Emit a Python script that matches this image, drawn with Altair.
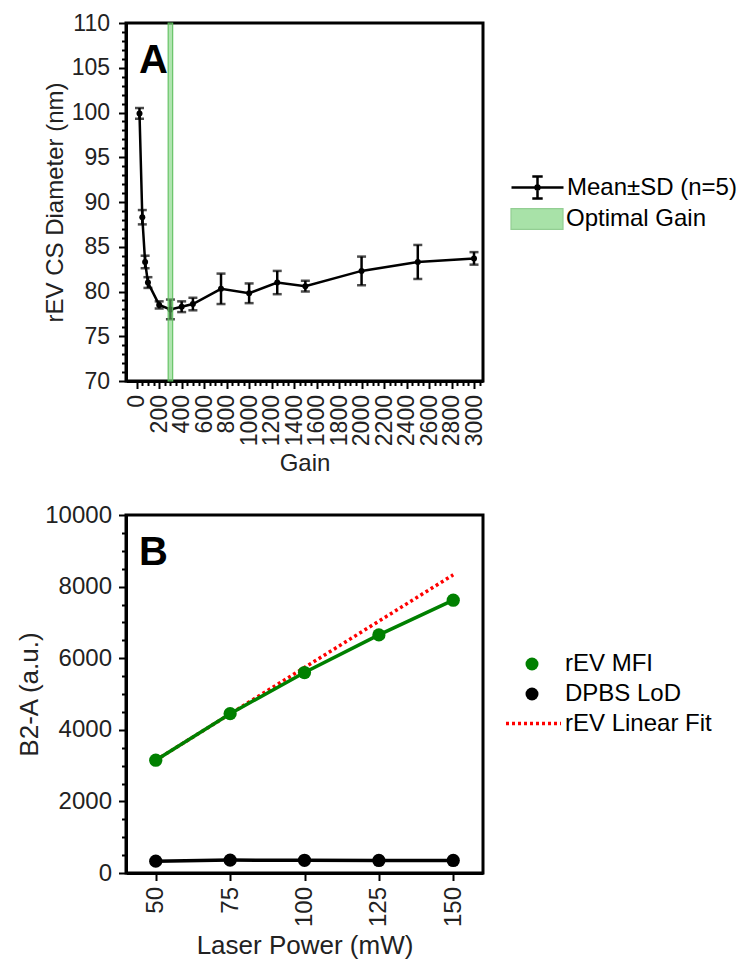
import altair as alt
import pandas as pd

# ---------------- data ----------------
gain = [25, 50, 75, 100, 200, 300, 400, 500, 750, 1000, 1250, 1500, 2000, 2500, 3000]
diam_mean = [99.9, 88.3, 83.3, 81.0, 78.5, 78.0, 78.3, 78.6, 80.3, 79.8, 81.0, 80.6, 82.3, 83.3, 83.7]
diam_sd = [0.6, 0.8, 0.7, 0.6, 0.4, 1.1, 0.6, 0.7, 1.7, 1.1, 1.3, 0.6, 1.6, 1.9, 0.7]
opt_gain_lo = [280]
opt_gain_hi = [320]

power = [50, 75, 100, 125, 150]
rev_mfi = [3150, 4450, 5600, 6650, 7620]
dpbs_lod = [330, 360, 355, 350, 350]
fit_power = [50, 150]
fit_mfi = [3150, 8330]

gain_ticks = list(range(0, 3051, 50))
diam_ticks = list(range(70, 111))
power_ticks = [50, 75, 100, 125, 150]
b2a_ticks = list(range(0, 10001, 500))

panel_labels = ["A", "B"]

FONT = "Liberation Sans"

# ---------------- frames ----------------
dfA = pd.DataFrame({"gain": gain, "mean": diam_mean, "sd": diam_sd})
dfA["lo"] = dfA["mean"] - dfA["sd"]
dfA["hi"] = dfA["mean"] + dfA["sd"]
dfA["series"] = "Mean±SD (n=5)"
dfBand = pd.DataFrame({"lo": opt_gain_lo, "hi": opt_gain_hi, "series": ["Optimal Gain"]})

dfB = pd.DataFrame({
    "power": power * 2,
    "value": rev_mfi + dpbs_lod,
    "series": ["rEV MFI"] * len(power) + ["DPBS LoD"] * len(power),
})
dfFit = pd.DataFrame({"power": fit_power, "value": fit_mfi, "series": ["rEV Linear Fit"] * 2})


def minor_dash(test):
    # major ticks solid, minor ticks drawn as a short stub next to the axis line
    return {"condition": {"test": test, "value": [8, 0]}, "value": [4.5, 12]}


def panel_label(letter):
    return alt.Chart(pd.DataFrame({"t": [letter]})).mark_text(
        font=FONT, fontSize=40, fontWeight="bold", color="black",
        align="left", baseline="alphabetic",
    ).encode(text="t:N", x=alt.value(13), y=alt.value(50))


# ---------------- panel A ----------------
xA_scale = alt.Scale(domain=[-95, 3080], nice=False, zero=False)
yA_scale = alt.Scale(domain=[70, 110], nice=False, zero=False)

xA_axis = alt.Axis(
    title="Gain", values=gain_ticks, format="d",
    labelExpr="datum.value % 200 === 0 ? datum.label : ''",
    tickDash=minor_dash("datum.value % 200 === 0"),
    labelAngle=270, labelAlign="right", labelBaseline="middle", labelOverlap=False,
    labelFontSize=23, titleFontSize=24, labelPadding=6, titlePadding=6,
)
yA_axis = alt.Axis(
    title="rEV CS Diameter (nm)", values=diam_ticks, format="d",
    labelExpr="datum.value % 5 === 0 ? datum.label : ''",
    tickDash=minor_dash("datum.value % 5 === 0"),
    labelOverlap=False,
    labelFontSize=23, titleFontSize=24, labelPadding=9, titlePadding=4,
)
xA = alt.X("gain:Q", scale=xA_scale, axis=xA_axis)

baseA = alt.Chart(dfA)

lineA = baseA.mark_line(strokeWidth=2.5).encode(
    x=xA,
    y=alt.Y("mean:Q", scale=yA_scale, axis=yA_axis),
    stroke=alt.Stroke(
        "series:N",
        scale=alt.Scale(domain=["Mean±SD (n=5)"], range=["black"]),
        legend=alt.Legend(
            title=None, orient="none", legendX=397, legendY=150,
            symbolType="M-2,0H2M0,-0.85V0.85M-0.4,-0.85H0.4M-0.4,0.85H0.4M0.15,0A0.15,0.15 0 1,1 -0.15,0A0.15,0.15 0 1,1 0.15,0",
            symbolSize=676, symbolStrokeWidth=2.5, symbolStrokeColor="black",
            labelFont=FONT, labelFontSize=24, labelOffset=15, labelColor="black",
        ),
    ),
)
ruleA = baseA.mark_rule(strokeWidth=2.5, color="black").encode(
    x=xA, y=alt.Y("lo:Q", scale=yA_scale, axis=yA_axis), y2="hi:Q"
)
capLo = baseA.mark_tick(orient="horizontal", size=9, thickness=2.5, color="black").encode(
    x=xA, y=alt.Y("lo:Q", scale=yA_scale, axis=yA_axis)
)
capHi = baseA.mark_tick(orient="horizontal", size=9, thickness=2.5, color="black").encode(
    x=xA, y=alt.Y("hi:Q", scale=yA_scale, axis=yA_axis)
)
ptsA = baseA.mark_point(filled=True, size=36, color="black", opacity=1).encode(
    x=xA, y=alt.Y("mean:Q", scale=yA_scale, axis=yA_axis)
)
bandA = alt.Chart(dfBand).mark_rect(
    fillOpacity=0.55, stroke="#5cbf5c", strokeWidth=1.2, strokeOpacity=0.9
).encode(
    x=alt.X("lo:Q", scale=xA_scale, axis=xA_axis), x2="hi:Q",
    y=alt.YDatum(70, scale=yA_scale, axis=yA_axis), y2=alt.datum(110),
    fill=alt.Fill(
        "series:N",
        scale=alt.Scale(domain=["Optimal Gain"], range=["#6fcf6f"]),
        legend=alt.Legend(
            title=None, orient="none", legendX=397, legendY=182,
            symbolType="M-2,-0.8H2V0.8H-2Z", symbolSize=676, symbolOpacity=0.6,
            symbolStrokeColor="#4cae4c", symbolStrokeWidth=1.2,
            labelFont=FONT, labelFontSize=24, labelOffset=15, labelColor="black",
        ),
    ),
)

chartA = alt.layer(
    lineA, ruleA, capLo, capHi, ptsA, bandA, panel_label(panel_labels[0])
).properties(width=357, height=358)

# ---------------- panel B ----------------
xB_scale = alt.Scale(domain=[40, 160], nice=False, zero=False)
yB_scale = alt.Scale(domain=[0, 10000], nice=False, zero=False)

xB_axis = alt.Axis(
    title="Laser Power (mW)", values=power_ticks, format="d",
    labelAngle=270, labelAlign="right", labelBaseline="middle",
    labelOverlap=False,
    labelFontSize=24, titleFontSize=26, labelPadding=6, titlePadding=6,
)
yB_axis = alt.Axis(
    title="B2-A (a.u.)", values=b2a_ticks, format="d",
    labelExpr="datum.value % 2000 === 0 ? datum.label : ''",
    tickDash=minor_dash("datum.value % 2000 === 0"),
    labelOverlap=False,
    labelFontSize=24, titleFontSize=26, labelPadding=7, titlePadding=2,
)
xB = alt.X("power:Q", scale=xB_scale, axis=xB_axis)
yB = alt.Y("value:Q", scale=yB_scale, axis=yB_axis)

colB = alt.Scale(domain=["rEV MFI", "DPBS LoD"], range=["#008000", "black"])

fitB = alt.Chart(dfFit).mark_line(strokeWidth=3.5, strokeDash=[3, 3]).encode(
    x=xB, y=yB,
    stroke=alt.Stroke(
        "series:N",
        scale=alt.Scale(domain=["rEV Linear Fit"], range=["red"]),
        legend=alt.Legend(
            title=None, orient="none", legendX=392, legendY=193,
            symbolType="M-2,0H2", symbolSize=756, symbolDash=[3, 3],
            symbolStrokeWidth=3.5, symbolStrokeColor="red",
            labelFont=FONT, labelFontSize=24, labelOffset=16, labelColor="black",
        ),
    ),
)
lineB = alt.Chart(dfB).mark_line(strokeWidth=3.5).encode(
    x=xB, y=yB,
    detail="series:N",
    color=alt.condition(
        alt.datum.series == "rEV MFI", alt.value("#008000"), alt.value("black")
    ),
)
ptsB = alt.Chart(dfB).mark_point(filled=True, size=175, opacity=1).encode(
    x=xB, y=yB,
    color=alt.Color(
        "series:N", scale=colB,
        legend=alt.Legend(
            title=None, orient="none", legendX=394, legendY=137,
            symbolType="circle", symbolSize=169, symbolOpacity=1,
            labelFont=FONT, labelFontSize=24, labelOffset=21, labelColor="black",
            rowPadding=6,
        ),
    ),
)

chartB = alt.layer(fitB, lineB, ptsB, panel_label(panel_labels[1])).properties(
    width=357, height=358
)

chart = alt.vconcat(chartA, chartB, spacing=134, bounds="flush").resolve_scale(
    stroke="independent", color="independent", fill="independent"
).resolve_legend(
    stroke="independent", color="independent", fill="independent"
).properties(
    padding={"left": 15, "top": 10, "right": 5, "bottom": 5}
).configure_view(
    stroke="black", strokeWidth=3
).configure_axis(
    grid=False, domainColor="black", domainWidth=3, tickColor="black", tickWidth=2,
    tickSize=7.5, labelOverlap=False,
    labelFont=FONT, labelColor="#222222",
    titleFont=FONT, titleFontWeight="normal", titleColor="#222222",
).configure_legend(
    labelLimit=400
)

chart.save("out.html", embed_options={"renderer": "svg", "actions": False})
